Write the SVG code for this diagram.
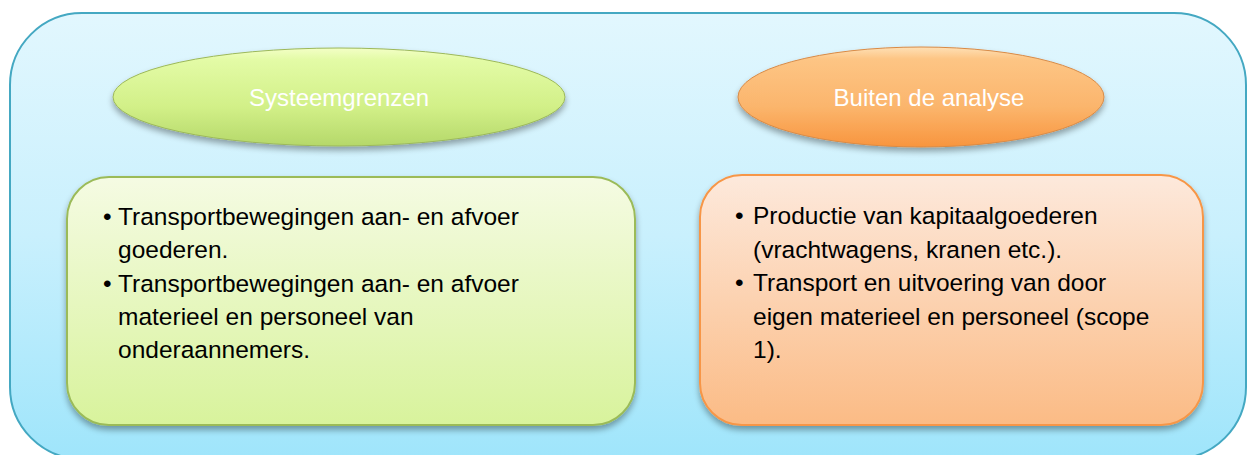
<svg xmlns="http://www.w3.org/2000/svg" width="1247" height="455" viewBox="0 0 1247 455">
<defs>
<linearGradient id="bgGrad" x1="0" y1="0" x2="0" y2="1">
<stop offset="0" stop-color="#e2f7fe"/>
<stop offset="0.5" stop-color="#c9f0fd"/>
<stop offset="1" stop-color="#9fe5fb"/>
</linearGradient>
<linearGradient id="greenBox" x1="0" y1="0" x2="0" y2="1">
<stop offset="0" stop-color="#f5fbe3"/>
<stop offset="1" stop-color="#d8f39c"/>
</linearGradient>
<linearGradient id="orangeBox" x1="0" y1="0" x2="0" y2="1">
<stop offset="0" stop-color="#fde9dc"/>
<stop offset="1" stop-color="#fbbb85"/>
</linearGradient>
<linearGradient id="greenEll" x1="0" y1="0" x2="0" y2="1">
<stop offset="0" stop-color="#f3ffc6"/>
<stop offset="0.12" stop-color="#e3fba6"/>
<stop offset="0.6" stop-color="#d2f088"/>
<stop offset="1" stop-color="#b5d86a"/>
</linearGradient>
<linearGradient id="orangeEll" x1="0" y1="0" x2="0" y2="1">
<stop offset="0" stop-color="#fee0b6"/>
<stop offset="0.12" stop-color="#fdc584"/>
<stop offset="0.6" stop-color="#fbb56c"/>
<stop offset="1" stop-color="#f8953e"/>
</linearGradient>
<filter id="shadow" x="-10%" y="-10%" width="120%" height="130%">
<feGaussianBlur in="SourceAlpha" stdDeviation="3"/>
<feOffset dx="0" dy="4" result="b"/>
<feComponentTransfer><feFuncA type="linear" slope="0.35"/></feComponentTransfer>
<feMerge><feMergeNode/><feMergeNode in="SourceGraphic"/></feMerge>
</filter>
</defs>
<style>
.title{font-family:"Liberation Sans",Arial,sans-serif;font-size:24px;fill:#ffffff;text-anchor:middle;}
.body{font-family:"Liberation Sans",Arial,sans-serif;font-size:24.5px;fill:#000000;}
</style>
<g id="container">
<rect x="10" y="13" width="1236" height="446" rx="72" ry="72" fill="url(#bgGrad)" stroke="#44a8c2" stroke-width="2"/>
</g>
<g id="node-systeemgrenzen">
<ellipse cx="339" cy="97" rx="226" ry="49" fill="url(#greenEll)" stroke="#9cb85a" stroke-width="1" filter="url(#shadow)"/>
<text class="title" x="339" y="106">Systeemgrenzen</text>
</g>
<g id="node-buiten">
<ellipse cx="921" cy="97" rx="183" ry="50" fill="url(#orangeEll)" stroke="#d98a45" stroke-width="1" filter="url(#shadow)"/>
<text class="title" x="929" y="106">Buiten de analyse</text>
</g>
<g id="node-systeem-box">
<rect x="67" y="177" width="568" height="248" rx="42" ry="42" fill="url(#greenBox)" stroke="#9bbb59" stroke-width="2" filter="url(#shadow)"/>
<text class="body">
<tspan x="103" y="225">•</tspan><tspan x="118" y="225">Transportbewegingen aan- en afvoer</tspan>
<tspan x="118" y="258">goederen.</tspan>
<tspan x="103" y="292">•</tspan><tspan x="118" y="292">Transportbewegingen aan- en afvoer</tspan>
<tspan x="118" y="325">materieel en personeel van</tspan>
<tspan x="118" y="358">onderaannemers.</tspan>
</text>
</g>
<g id="node-buiten-box">
<rect x="700" y="175" width="503" height="250" rx="42" ry="42" fill="url(#orangeBox)" stroke="#f79646" stroke-width="2" filter="url(#shadow)"/>
<text class="body">
<tspan x="735" y="224">•</tspan><tspan x="753" y="224">Productie van kapitaalgoederen</tspan>
<tspan x="753" y="258">(vrachtwagens, kranen etc.).</tspan>
<tspan x="735" y="291">•</tspan><tspan x="753" y="291">Transport en uitvoering van door</tspan>
<tspan x="753" y="325">eigen materieel en personeel (scope</tspan>
<tspan x="753" y="358">1).</tspan>
</text>
</g>
<g id="connectors"></g>
</svg>
